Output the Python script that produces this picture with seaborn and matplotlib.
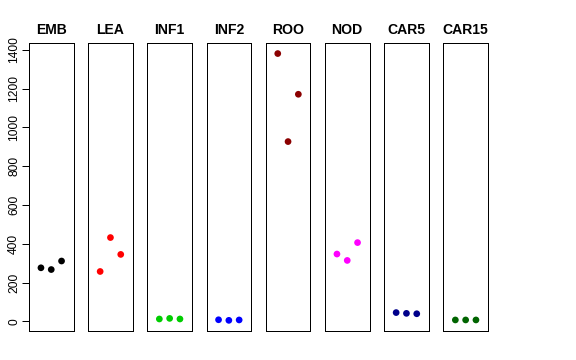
import matplotlib
matplotlib.use("Agg")
import matplotlib.pyplot as plt
import seaborn as sns
import pandas as pd

sns.set_style("white")
plt.rcParams['font.family'] = ['Liberation Sans', 'DejaVu Sans']
plt.rcParams['text.color'] = 'black'
plt.rcParams['ytick.color'] = 'black'
plt.rcParams['axes.labelcolor'] = 'black'

tissues = ["EMB", "LEA", "INF1", "INF2", "ROO", "NOD", "CAR5", "CAR15"]
colors = ["#000000", "#FF0000", "#00CD00", "#0000FF", "#8B0000", "#FF00FF", "#00008B", "#006400"]
replicates = [1, 2, 3]
emb = [276, 267, 311]
lea = [257, 432, 345]
inf1 = [12, 15, 12]
inf2 = [8, 5, 7]
roo = [1381, 927, 1171]
nod = [347, 314, 406]
car5 = [45, 41, 39]
car15 = [7, 7, 7]
values = [emb, lea, inf1, inf2, roo, nod, car5, car15]
yticks = [0, 200, 400, 600, 800, 1000, 1200, 1400]

rows = []
for t, vals in zip(tissues, values):
    for r, v in zip(replicates, vals):
        rows.append({"tissue": t, "rep": r, "value": v})
df = pd.DataFrame(rows)

fig = plt.figure(figsize=(8, 5), dpi=72)
W, H = 576, 360
left0, step, pw = 29.0, 59.2, 44.5
top, bottom = 42.7, 331.0
for i, (t, c) in enumerate(zip(tissues, colors)):
    ax = fig.add_axes([(left0 + i * step) / W, (H - bottom) / H, pw / W, (bottom - top) / H])
    sub = df[df["tissue"] == t]
    sns.scatterplot(data=sub, x="rep", y="value", color=c, s=45, edgecolor="none", ax=ax)
    ax.set_xlim(-0.16, 4.16)
    ax.set_ylim(-50, 1437)
    ax.set_xlabel("")
    ax.set_ylabel("")
    ax.set_xticks([])
    ax.set_title(t, fontsize=14, fontweight="bold", pad=8.5, color="black")
    for s in ax.spines.values():
        s.set_visible(True)
        s.set_color("black")
        s.set_linewidth(1.0)
    if i == 0:
        ax.set_yticks(yticks)
        ax.set_yticklabels([str(v) for v in yticks], rotation=90, va="center", fontsize=12, color="black")
        ax.tick_params(axis="y", direction="out", length=7, width=1, pad=2, left=True, colors="black")
    else:
        ax.set_yticks([])

fig.savefig("out.png", dpi=72)
